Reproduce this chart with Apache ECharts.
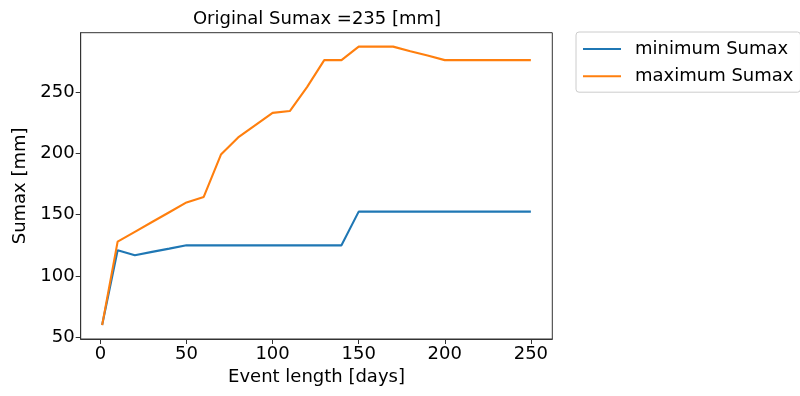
<!DOCTYPE html>
<html>
<head>
<meta charset="utf-8">
<script src="https://cdn.jsdelivr.net/npm/echarts@6/dist/echarts.min.js"></script>
<style>html,body{margin:0;padding:0;background:#fff;}#c{width:800px;height:396px;}</style>
</head>
<body>
<div id="c"></div>
<script>
const eventLength = [1, 10, 20, 30, 40, 50, 60, 70, 80, 90, 100, 110, 120, 130, 140, 150, 160, 170, 180, 190, 200, 210, 220, 230, 240, 250];
const minimumSumax = [60, 121, 117, 119.7, 122.3, 125, 125, 125, 125, 125, 125, 125, 125, 125, 125, 152.5, 152.5, 152.5, 152.5, 152.5, 152.5, 152.5, 152.5, 152.5, 152.5, 152.5];
const maximumSumax = [60, 128, 136, 144, 152, 160, 164.5, 199, 213, 223, 233, 234.5, 254, 276, 276, 287, 287, 287, 283.3, 279.7, 276, 276, 276, 276, 276, 276];
const xTicks = [0, 50, 100, 150, 200, 250];
const yTicks = [50, 100, 150, 200, 250];
const seriesNames = ['minimum Sumax', 'maximum Sumax'];
const titleText = 'Original Sumax =235 [mm]';

const font = 'DejaVu Sans';
const fs = 18;
const chart = echarts.init(document.getElementById('c'), null, {renderer: 'canvas'});
function pairs(xs, ys) { return xs.map((x, i) => [x, ys[i]]); }
chart.setOption({
  animation: false,
  backgroundColor: '#fff',
  title: {
    text: titleText, left: 312, top: 5, textAlign: 'center',
    textStyle: {fontFamily: font, fontSize: fs, fontWeight: 'normal', color: '#000'}
  },
  legend: {
    data: seriesNames, orient: 'vertical', left: 576, top: 32,
    padding: [8, 7, 7, 7], itemGap: 9.2, itemWidth: 38, itemHeight: 2, icon: 'rect',
    borderColor: '#cccccc', borderWidth: 1, borderRadius: 3,
    textStyle: {fontFamily: font, fontSize: fs, color: '#000', padding: [0, 0, 0, 9], lineHeight: 18}
  },
  grid: {left: 80.7, right: 247.7, top: 32.7, bottom: 57, show: true, borderColor: '#333', borderWidth: 1, containLabel: false},
  xAxis: {
    type: 'value', min: -11.45, max: 262.45,
    name: 'Event length [days]', nameLocation: 'middle', nameGap: 28,
    nameTextStyle: {fontFamily: font, fontSize: fs, color: '#000'},
    axisLine: {show: true, onZero: false, lineStyle: {color: '#333', width: 1}},
    axisTick: {show: true, customValues: xTicks, length: 5, lineStyle: {color: '#333'}},
    axisLabel: {customValues: xTicks, fontFamily: font, fontSize: fs, color: '#000', margin: 6},
    splitLine: {show: false}
  },
  yAxis: {
    type: 'value', min: 48.65, max: 298.35,
    name: 'Sumax [mm]', nameLocation: 'middle', nameGap: 51,
    nameTextStyle: {fontFamily: font, fontSize: fs, color: '#000'},
    axisLine: {show: true, onZero: false, lineStyle: {color: '#333', width: 1}},
    axisTick: {show: true, customValues: yTicks, length: 5, lineStyle: {color: '#333'}},
    axisLabel: {customValues: yTicks, fontFamily: font, fontSize: fs, color: '#000', margin: 6},
    splitLine: {show: false}
  },
  series: [
    {name: seriesNames[0], type: 'line', symbol: 'none', data: pairs(eventLength, minimumSumax),
     lineStyle: {color: '#1f77b4', width: 2.1}, itemStyle: {color: '#1f77b4'}},
    {name: seriesNames[1], type: 'line', symbol: 'none', data: pairs(eventLength, maximumSumax),
     lineStyle: {color: '#ff7f0e', width: 2.1}, itemStyle: {color: '#ff7f0e'}}
  ]
});
</script>
</body>
</html>
